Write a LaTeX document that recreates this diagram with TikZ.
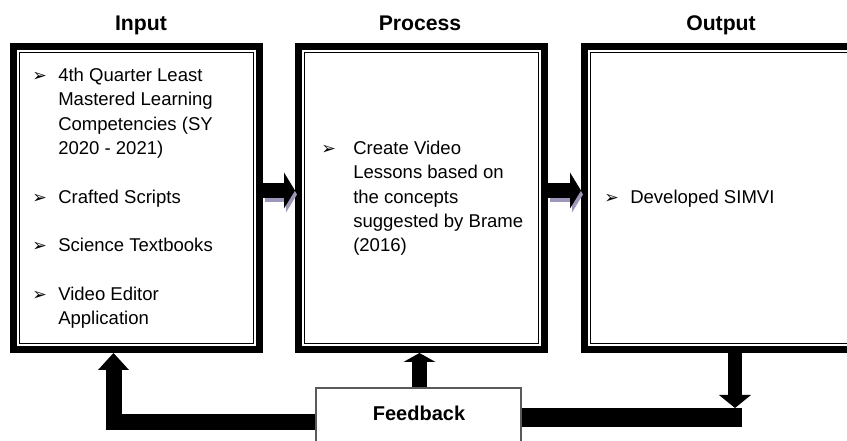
\documentclass[tikz,border=0pt]{standalone}
\usepackage{fontspec}
\setmainfont{Liberation Sans}
\newfontfamily\dejavu{DejaVu Sans}
\usetikzlibrary{arrows.meta,calc}
\definecolor{shadowc}{RGB}{160,150,185}
\definecolor{fbgray}{RGB}{90,90,90}
\begin{document}
\begin{tikzpicture}[x=0.75pt,y=-0.75pt,
  boxs/.style={draw, line width=5.25pt, minimum width=184.5pt, minimum height=227.25pt, outer sep=2.625pt, inner sep=0pt},
  innerline/.style={draw, line width=0.9pt},
  title/.style={font=\fontsize{15.9pt}{19pt}\selectfont\bfseries, inner sep=0pt, anchor=base},
  txt/.style={font=\fontsize{13.9pt}{18.2pt}\selectfont, anchor=base west, inner sep=0pt},
  bul/.style={font=\dejavu\fontsize{13pt}{15pt}\selectfont, anchor=base west, inner sep=0pt},
  flow/.style={line width=11.25pt, -{Triangle[length=8.25pt,width=27pt,line width=0pt]}},
  upflow/.style={line width=11.25pt, -{Triangle[length=6.75pt,width=24pt,line width=0pt]}},
  elbowflow/.style={line width=12pt, line join=miter, -{Triangle[length=12.75pt,width=23.25pt,line width=0pt]}},
  downflow/.style={line width=10.5pt, -{Triangle[length=9.75pt,width=24pt,line width=0pt]}},
  fbbar/.style={line width=14.25pt},
  fbbox/.style={draw=fbgray, line width=0.8pt, fill=white, minimum width=153.75pt, minimum height=63pt, inner sep=0pt}
]
\useasboundingbox (0,0) rectangle (847,441);
\clip (0,0) rectangle (847,441);
\fill[white] (0,0) rectangle (847,441);

% titles
\node[title] (tin) at (141,31) {Input};
\node[title] (tpr) at (420,31) {Process};
\node[title] (tou) at (721,31) {Output};

% boxes
\node[boxs] (in) at (136.5,198) {};
\node[boxs] (pr) at (421.5,198) {};
\node[boxs, minimum width=219pt] (ou) at (730.5,198) {};
\draw[innerline] ($(in.north west)+(9.5,9.5)$) rectangle ($(in.south east)+(-9.5,-9.5)$);
\draw[innerline] ($(pr.north west)+(9.5,9.5)$) rectangle ($(pr.south east)+(-9.5,-9.5)$);
\draw[innerline] ($(ou.north west)+(9.5,9.5)$) rectangle ($(ou.south east)+(-9.5,-9.5)$);

% input texts
\node[bul] (b1) at (32,81.6) {➢};
\node[txt] (t1) at (58,81.6) {\parbox[t]{190pt}{4th Quarter Least\\Mastered Learning\\Competencies (SY\\2020 - 2021)}};
\node[bul] (b2) at (32,203.6) {➢};
\node[txt] (t2) at (58,203.6) {Crafted Scripts};
\node[bul] (b3) at (32,251.6) {➢};
\node[txt] (t3) at (58,251.6) {Science Textbooks};
\node[bul] (b4) at (32,300.6) {➢};
\node[txt] (t4) at (58,300.6) {\parbox[t]{190pt}{Video Editor\\Application}};

% process text
\node[bul] (b5) at (321,154.6) {➢};
\node[txt] (t5) at (353,154.6) {\parbox[t]{190pt}{Create Video\\Lessons based on\\the concepts\\suggested by Brame\\(2016)}};

% output text
\node[bul] (b6) at (604,203.6) {➢};
\node[txt] (t6) at (630,203.6) {Developed SIMVI};

% right arrows with shadow
\coordinate (a1s) at (in.east |- 0,190.5);
\coordinate (a1e) at (pr.west |- 0,190.5);
\coordinate (a2s) at (pr.east |- 0,190.5);
\coordinate (a2e) at (ou.west |- 0,190.5);
\draw[flow, draw=shadowc] ($(a1s)+(2,4)$) -- ($(a1e)+(2,4)$);
\draw[flow, draw=shadowc] ($(a2s)+(2,4)$) -- ($(a2e)+(2,4)$);
\draw[flow] (a1s) -- (a1e);
\draw[flow] (a2s) -- (a2e);

% feedback
\node[fbbox] (fb) at (418.5,430) {};
\node[font=\fontsize{15pt}{18pt}\selectfont\bfseries, inner sep=0pt, anchor=base] (fbl) at (419,421) {Feedback};

\draw[upflow] (419.5,0 |- fb.north) -- (419.5,0 |- pr.south);
\draw[elbowflow] (fb.west |- 0,422) -| (113.5,0 |- in.south);
\draw[fbbar] (fb.east |- 0,417.5) -- (742,417.5);
\draw[downflow] (735,0 |- ou.south) -- (735,408);
\end{tikzpicture}
\end{document}
